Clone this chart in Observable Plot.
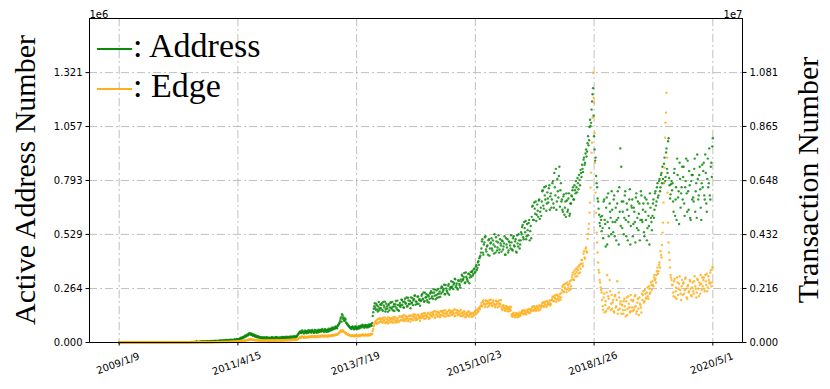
<!DOCTYPE html>
<html><head><meta charset="utf-8">
<script src="https://cdn.jsdelivr.net/npm/d3@7"></script>
<script src="https://cdn.jsdelivr.net/npm/@observablehq/plot@0.6"></script>
<style>body{margin:0;background:#fff} #chart{width:830px;height:389px}</style>
</head><body><div id="chart"></div>
<script>
// Samples: "A" arrays at weekly steps from 2009/1/9,
// "B" arrays half a week later (thousands).
const startDate = [2009, 1, 9];
const stepDays = 7;
const addressA = [
0,0,0,0,0,0,0,0,0,0, 0,0,0,0,0,0,0,0,0,0, 0,0,0,0,0,0,0,0,0,0, 0,0,0,0,0,0,0,0,0,0,
0,0,0,0,1,0,0,0,0,1, 1,1,1,1,1,1,1,1,1,2, 1,1,2,1,2,1,2,2,1,2, 2,2,2,3,2,3,2,6,2,3,
3,4,5,3,6,4,3,5,6,4, 5,7,4,6,8,5,9,6,8,7, 7,10,6,9,11,8,12,9,11,10, 10,14,9,13,11,15,12,16,13,15,
18,23,20,27,26,33,31,38,36,44, 45,38,42,33,37,29,33,26,29,24, 27,20,25,19,26,21,18,25,22,19,
24,18,26,20,23,19,27,21,24,20, 25,21,27,20,26,23,28,22,27,24, 29,23,28,25,31,26,30,34,42,48,
54,46,59,51,49,57,45,53,60,50, 57,49,62,53,51,60,48,56,63,52, 62,54,66,57,55,64,52,60,67,56,
68,60,74,66,70,78,72,80,88,96, 115,102,132,122,106,112,96,88,82,76, 74,66,79,71,69,77,65,73,80,70,
82,74,87,79,77,85,73,81,88,78, 90,82,130,165,192,160,182,152,198,168, 168,192,155,181,200,163,176,150,188,171,
196,171,158,188,177,203,162,184,155,193, 182,208,199,170,214,190,176,219,187,203, 221,196,183,212,230,201,189,225,208,180,
205,236,214,199,244,222,207,231,196,240, 251,226,214,245,259,232,219,262,240,224, 240,271,256,283,237,265,249,278,234,268,
300,274,262,291,309,279,266,305,287,270, 298,327,311,340,294,322,306,335,290,330, 322,350,336,362,346,378,365,398,412,425,
460,505,430,490,520,445,475,500,425,485, 510,450,480,530,440,495,465,525,455,485, 445,495,470,520,430,480,505,450,490,460,
490,450,520,470,505,440,485,530,460,500, 530,575,505,560,595,520,550,585,500,570, 615,670,600,655,690,625,645,695,605,660,
690,745,655,720,765,680,705,755,650,730, 700,790,660,760,850,690,740,815,665,780, 700,640,725,660,615,695,650,730,630,680,
715,760,700,745,790,735,780,820,770,830, 870,835,905,880,945,935,1010,990,1090,1075, 1180,1245,1010,890,815,760,690,625,570,600,
620,510,700,580,660,480,730,560,640,530, 650,540,720,590,500,680,610,760,950,860, 560,690,610,740,520,650,590,700,480,670,
700,580,640,490,730,610,550,680,600,720, 590,680,520,640,700,560,620,480,660,590, 620,700,650,740,690,780,720,800,760,830,
860,780,905,810,950,830,1000,770,725,790, 780,640,850,700,600,820,740,880,660,760, 700,860,620,790,730,890,650,770,600,820,
820,690,900,740,610,800,720,860,660,780, 760,880,700,830,640,900,780,720,860,810, 1000
];
const addressB = [
0,0,0,0,0,0,0,0,0,0, 0,0,0,0,0,0,0,0,0,0, 0,0,0,0,0,0,0,0,0,0, 0,0,0,0,0,0,0,0,0,0,
0,0,0,0,0,1,0,0,0,0, 1,1,1,1,1,1,2,1,1,1, 2,1,1,2,1,2,2,1,2,2, 2,3,2,2,3,2,3,2,3,3,
4,3,4,5,3,5,4,6,4,5, 6,5,7,5,6,7,6,8,7,9, 9,7,10,8,9,11,10,12,10,12, 12,11,13,12,14,12,15,13,16,17,
21,19,25,23,30,28,36,34,42,40, 40,43,35,39,31,35,28,31,25,27, 22,26,21,24,19,23,26,20,24,21,
21,25,19,24,20,26,22,25,20,23, 22,26,24,27,21,25,22,27,23,26, 24,28,26,29,24,30,28,38,45,52,
48,56,52,44,58,50,55,47,53,59, 50,59,54,47,61,53,58,49,55,62, 55,63,58,51,65,57,62,53,59,66,
62,70,65,72,68,75,70,84,92,104, 124,138,116,108,118,98,90,84,78,72, 68,76,72,64,78,70,75,67,73,79,
76,84,80,72,86,78,83,75,81,87, 86,96,148,178,170,190,162,176,158,186, 185,160,198,172,152,190,166,182,157,195,
165,199,176,154,187,170,205,158,181,174, 210,185,172,201,193,220,178,206,189,168, 192,217,206,229,185,199,224,190,213,203,
229,211,245,203,220,236,198,226,214,243, 217,243,261,229,212,255,236,221,250,265, 274,247,262,236,282,255,241,286,259,272,
268,296,284,312,271,289,259,301,280,308, 332,305,320,291,343,313,299,337,318,345, 345,328,358,341,372,355,392,380,420,440,
495,440,480,515,455,470,430,505,460,490, 460,500,435,470,515,450,490,440,505,475, 500,455,485,430,510,465,440,495,475,525,
455,510,475,495,445,525,470,500,480,540, 565,515,590,540,505,580,525,600,545,510, 665,600,685,630,595,675,615,700,640,620,
740,670,760,700,645,735,685,770,715,660, 780,680,830,720,650,800,710,860,745,690, 650,715,625,690,730,640,705,620,680,720,
745,700,770,730,760,805,750,795,845,810, 850,895,870,925,910,975,965,1055,1060,1140, 1215,1110,945,905,780,705,655,585,615,545,
560,690,600,470,710,590,520,680,610,740, 590,700,520,660,600,740,480,640,570,690, 640,530,720,600,680,500,620,750,570,660,
520,660,590,710,560,690,630,500,740,600, 650,540,710,600,500,680,570,730,610,550, 680,610,730,670,760,710,790,740,820,780,
800,875,790,930,850,985,805,705,775,745, 690,830,620,760,900,710,580,800,730,860, 810,680,760,900,640,740,840,610,790,700,
710,850,640,780,920,700,820,750,600,870, 840,720,920,680,800,760,950,700,880,960
];
const edgeA = [
0,0,0,0,0,0,0,0,0,0, 0,0,0,0,0,0,0,0,0,0, 0,0,0,0,0,0,0,0,0,0, 0,0,0,0,0,0,0,0,0,0,
0,0,0,0,0,0,0,0,0,0, 1,1,1,2,1,2,2,3,2,3, 3,3,4,3,4,4,5,4,5,5, 5,6,5,6,7,6,7,8,7,8,
8,10,8,11,9,12,10,13,11,12, 12,15,12,16,13,17,14,18,15,19, 16,22,17,23,18,24,20,25,21,26, 24,34,27,36,30,40,36,45,40,50,
50,60,58,70,68,84,86,105,102,124, 128,112,120,98,104,88,96,80,88,74, 82,68,80,65,78,66,80,64,79,68,
82,68,84,70,82,72,86,74,88,76, 90,78,92,80,95,82,98,84,100,88, 104,92,110,96,112,100,118,130,165,190,
220,198,238,212,205,232,192,218,242,208, 243,221,261,235,228,255,215,241,265,231, 265,243,283,257,250,277,237,263,287,253,
285,262,300,278,300,315,305,335,365,400, 460,430,490,440,410,380,350,325,310,295, 275,255,292,268,262,286,250,272,295,262,
305,283,323,297,290,317,277,303,327,293, 345,325,460,650,780,860,740,940,800,975, 850,960,790,905,1000,815,930,760,880,975,
975,860,790,940,1020,885,810,960,845,1030, 900,1050,980,860,1080,930,1010,850,1070,955, 1080,950,890,1040,1120,980,910,1100,1010,870,
990,1140,1050,960,1180,1090,1010,1160,940,1120, 1190,1040,1150,1250,1000,1120,1230,1070,1180,1010, 1100,1250,1170,1050,1290,1140,1220,1060,1300,1180,
1260,1100,1210,1320,1070,1180,1290,1130,1240,1060, 1060,1200,1110,1250,1030,1160,1090,1230,1020,1170, 1150,1030,1190,1080,1230,1160,1320,1250,1390,1440,
1590,1450,1690,1545,1510,1650,1420,1570,1700,1530, 1575,1460,1680,1530,1495,1640,1410,1555,1690,1515, 1420,1300,1490,1370,1330,1440,1250,1350,1430,1280,
1120,1030,1190,1095,1070,1160,1010,1110,1200,1080, 1190,1280,1130,1250,1160,1310,1210,1340,1180,1290, 1330,1440,1270,1400,1310,1460,1350,1280,1470,1390,
1490,1600,1430,1560,1640,1470,1580,1520,1680,1540, 1700,1830,1650,1790,1900,1720,1850,1680,1940,1800, 2100,2280,2020,2200,2360,2120,2300,2080,2450,2250,
2600,2800,2500,2750,2950,2650,2900,3050,2800,3150, 3300,3050,3650,3350,3800,3600,4350,4750,5600,6800, 8000,10800,9600,7200,5200,4000,3200,2800,2400,2100,
1700,1300,1950,1500,1250,2700,1850,1400,2050,1550, 1350,1700,1200,1900,1450,2450,1300,1800,1550,1150, 1500,1150,1750,1300,1650,1100,1850,1400,1250,1700,
1250,1700,1400,1900,1150,1600,1350,1800,1500,1200, 1700,2050,1650,1950,1800,2200,1750,2150,2000,2300, 2450,2250,2700,2550,2700,3000,2850,3200,3650,3400,
4400,5600,7000,8800,10000,6000,4000,3300,2700,2500, 2300,1850,2550,2050,1750,2400,2150,2650,1950,2250, 1900,2400,2100,2600,1800,2250,2000,2500,2150,1850,
2400,1950,2650,2150,2000,2500,1850,2300,2700,2100, 2250,2600,2050,2450,2750,2200,2500,2350,2900,2400, 3000
];
const edgeB = [
0,0,0,0,0,0,0,0,0,0, 0,0,0,0,0,0,0,0,0,0, 0,0,0,0,0,0,0,0,0,0, 0,0,0,0,0,0,0,0,0,0,
0,0,0,0,0,0,0,0,0,0, 1,1,2,1,2,1,2,2,3,2, 3,4,3,4,4,5,4,5,5,6, 6,5,6,7,6,7,8,7,8,9,
9,8,10,9,11,10,12,11,13,12, 14,12,15,13,16,14,17,15,18,16, 19,17,20,18,22,19,23,21,24,22, 30,26,32,28,35,32,40,38,46,44,
55,52,64,62,76,75,94,92,115,112, 118,125,108,114,95,100,84,90,76,82, 72,78,70,76,68,77,70,78,68,76,
72,80,74,82,76,84,78,86,80,88, 82,92,84,94,86,96,88,100,90,102, 94,106,100,112,104,116,110,140,175,205,
200,228,214,190,236,210,226,196,216,240, 223,251,237,213,259,233,249,219,239,263, 245,273,259,235,281,255,271,241,261,285,
268,292,282,305,290,325,312,350,385,430, 480,450,470,420,390,360,335,315,300,285, 256,282,270,248,290,266,280,254,272,294,
285,313,299,275,321,295,311,281,301,325, 335,352,540,700,820,760,900,790,940,830, 935,820,990,870,775,950,840,1010,800,915,
820,950,1010,870,795,985,905,830,1040,880, 1030,890,1090,945,870,1040,975,905,1060,835, 930,1060,1130,990,900,1075,945,1110,970,1050,
1130,1000,1170,1070,950,1110,1030,1190,985,1080, 1060,1210,1100,990,1240,1140,1030,1200,1090,1260, 1230,1080,1280,1160,1040,1210,1120,1270,1070,1190,
1120,1270,1160,1050,1310,1200,1090,1250,1150,1300, 1180,1050,1220,1130,1010,1190,1080,1240,1100,1150, 1040,1170,1110,1250,1140,1300,1220,1380,1330,1480,
1480,1640,1560,1420,1690,1550,1650,1460,1580,1710, 1470,1630,1545,1410,1675,1540,1640,1450,1565,1695, 1330,1460,1380,1260,1450,1330,1400,1250,1330,1420,
1050,1150,1105,1010,1185,1090,1150,1040,1115,1195, 1260,1150,1300,1200,1120,1270,1230,1180,1330,1250, 1410,1290,1450,1340,1260,1420,1380,1480,1310,1430,
1570,1450,1620,1510,1420,1660,1530,1600,1480,1700, 1790,1660,1870,1740,1620,1910,1760,1830,1710,1980, 2230,2050,2330,2150,2010,2400,2190,2340,2130,2500,
2700,2520,2880,2640,2820,3000,2760,3100,2950,3300, 3150,3550,3400,3750,3650,4150,4550,5200,6200,7600, 9000,9800,8400,6000,4400,3600,2900,2500,2200,2000,
1450,1800,1200,1650,2000,1350,1750,2500,1300,1900, 1600,1250,1850,1400,1700,1150,2000,1350,1650,1500, 1300,1650,1450,1050,1800,1350,1550,1200,1900,1400,
1650,1300,1850,1450,1250,1750,1100,1550,1400,1950, 1900,1600,2100,1750,2000,1850,2250,1950,2400,2100, 2300,2600,2500,2400,2850,2750,3100,3000,3500,3900,
4800,6400,8200,9200,7400,4800,3600,3000,2600,2300, 2000,2450,1800,2200,2600,1900,2350,2100,1700,2500, 2350,1950,2550,2150,1750,2300,2050,2450,1900,2200,
2050,2450,2250,1800,2550,2150,2400,1950,2350,2600, 2500,2150,2700,2300,2050,2650,2400,2800,2250,3000
];
const xTickLabels = ["2009/1/9","2011/4/15","2013/7/19","2015/10/23","2018/1/26","2020/5/1"];
const leftTickLabels = ["0.000","0.264","0.529","0.793","1.057","1.321"];
const rightTickLabels = ["0.000","0.216","0.432","0.648","0.865","1.081"];
const leftMax = 1.3215e6;
const rightMax = 1.0808e7;
const seriesNames = ["Address","Edge"];
const seriesColors = ["#0c8a0c","#FFB020"];
const leftTitle = "Active Address Number";
const rightTitle = "Transaction Number";

const DAY = 864e5;
const t0 = Date.UTC(startDate[0], startDate[1]-1, startDate[2]);
const ratio = leftMax / rightMax;
function rows(arr, offsetDays, scale){
  return arr.map((v,i)=>({date:new Date(t0+(i*stepDays+offsetDays)*DAY), v:v*1000*scale}));
}
const addr = rows(addressA,0,1).concat(rows(addressB,3.5,1));
const edge = rows(edgeA,0,ratio).concat(rows(edgeB,3.5,ratio));
const xTicks = xTickLabels.map(s=>{const [y,m,d]=s.split("/").map(Number);return new Date(Date.UTC(y,m-1,d));});
const span = xTicks[xTicks.length-1]-xTicks[0];
const xDomain = [new Date(+xTicks[0]-0.05*span), new Date(+xTicks[xTicks.length-1]+0.05*span)];
const leftVals = leftTickLabels.map(s=>+s*1e6);
const rightVals = rightTickLabels.map(s=>+s*1e7*ratio);
const leftMap = new Map(leftVals.map((v,i)=>[v,leftTickLabels[i]]));
const rightMap = new Map(rightVals.map((v,i)=>[v,rightTickLabels[i]]));
const xLabelMap = new Map(xTicks.map((d,i)=>[+d,xTickLabels[i]]));

const serif = "Liberation Serif, Times New Roman, serif";
const grid = {stroke:"#b0b0b0", strokeOpacity:1, strokeWidth:0.8, strokeDasharray:"8,3,2,3"};
const plot = Plot.plot({
  width:830, height:389,
  marginLeft:89, marginRight:88, marginTop:18, marginBottom:47,
  style:{fontFamily:"DejaVu Sans, sans-serif", fontSize:"10px", background:"white", color:"black", overflow:"visible"},
  x:{type:"utc", domain:xDomain},
  y:{domain:[0, 1.2*leftMax]},
  marks:[
    Plot.gridX(xTicks, grid),
    Plot.gridY(leftVals, grid),
    Plot.dot(addr, {x:"date", y:"v", r:1.2, fill:seriesColors[0], fillOpacity:0.85, stroke:"none"}),
    Plot.dot(edge, {x:"date", y:"v", r:1.2, fill:seriesColors[1], fillOpacity:0.85, stroke:"none"}),
    Plot.frame({stroke:"black", strokeWidth:1}),
    Plot.axisY(leftVals, {anchor:"left", tickSize:3.5, tickPadding:3.5, tickFormat:d=>leftMap.get(d), label:null}),
    Plot.axisY(rightVals, {anchor:"right", tickSize:3.5, tickPadding:3.5, tickFormat:d=>rightMap.get(d), label:null}),
    Plot.axisX(xTicks, {anchor:"bottom", tickSize:3.5, tickFormat:()=>"", label:null}),
    Plot.text(xTicks, {x:d=>d, frameAnchor:"bottom", dy:24, text:d=>xLabelMap.get(+d), rotate:-20, textAnchor:"middle", fontSize:10}),
    Plot.text(["1e6"], {frameAnchor:"top-left", dy:-8, textAnchor:"start", fontSize:10}),
    Plot.text(["1e7"], {frameAnchor:"top-right", dy:-8, textAnchor:"end", fontSize:10})
  ]
});
document.getElementById("chart").appendChild(plot);
const svg = d3.select(plot);
svg.append("text").attr("transform","translate(35,180) rotate(-90)")
  .attr("text-anchor","middle").attr("font-family",serif).attr("font-size",30).attr("fill","black").text(leftTitle);
svg.append("text").attr("transform","translate(818,180) rotate(-90)")
  .attr("text-anchor","middle").attr("font-family",serif).attr("font-size",30).attr("fill","black").text(rightTitle);
const lg = svg.append("g");
seriesNames.forEach((name,i)=>{
  const y = 49 + i*40;
  lg.append("line").attr("x1",97).attr("x2",132).attr("y1",y).attr("y2",y)
    .attr("stroke",seriesColors[i]).attr("stroke-width",2);
  lg.append("text").attr("x",133).attr("y",y+8).attr("text-anchor","start").attr("font-family",serif).attr("font-size",34)
    .attr("fill","black").text(": "+name);
});
</script></body></html>
